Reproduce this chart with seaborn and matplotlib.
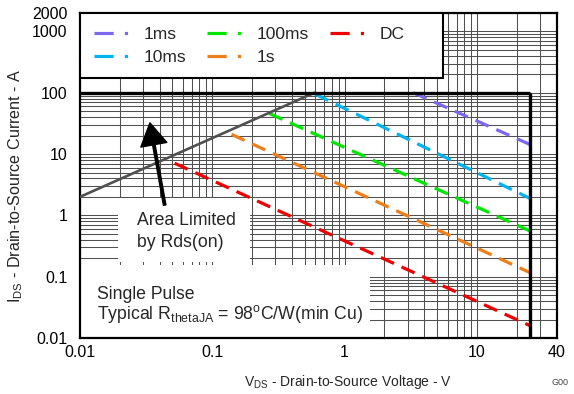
import pandas as pd
import seaborn as sns
import matplotlib.pyplot as plt
from matplotlib.lines import Line2D
from matplotlib.patches import Rectangle
from matplotlib.ticker import LogLocator, NullFormatter

# Safe operating area values
rds_v = [0.01, 0.59]
rds_i = [2.0, 100]

pulse_labels = ['1ms', '10ms', '100ms', '1s', 'DC']
pulse_v_start = [3.3, 0.6, 0.27, 0.14, 0.052]
pulse_i_start = [100, 95, 46, 21, 7.1]
pulse_v_end = [25, 25, 25, 25, 25]
pulse_i_end = [14.4, 1.9, 0.56, 0.117, 0.016]
pulse_colors = ['#7b68ee', '#00b4f0', '#00e600', '#ee7d1a', '#ee0000']

i_limit = 100   # current limit (thick line)
v_limit = 25    # voltage limit (thick line)

x_ticks = [0.01, 0.1, 1, 10, 40]
x_ticklabels = ['0.01', '0.1', '1', '10', '40']
y_ticks = [0.01, 0.1, 1, 10, 100, 1000, 2000]
y_ticklabels = ['0.01', '0.1', '1', '10', '100', '1000', '2000']

rows = []
for lab, vs, is_, ve, ie in zip(pulse_labels, pulse_v_start, pulse_i_start, pulse_v_end, pulse_i_end):
    rows.append({'V': vs, 'I': is_, 'pulse': lab})
    rows.append({'V': ve, 'I': ie, 'pulse': lab})
df = pd.DataFrame(rows)
df_rds = pd.DataFrame({'V': rds_v, 'I': rds_i})

sns.set_style('white')
plt.rcParams['font.family'] = ['Liberation Sans', 'DejaVu Sans']
plt.rcParams['mathtext.fontset'] = 'custom'
plt.rcParams['mathtext.rm'] = 'Liberation Sans'
plt.rcParams['mathtext.it'] = 'Liberation Sans:italic'

fig = plt.figure(figsize=(5.74, 3.94), dpi=100)
ax = fig.add_axes([0.139, 0.142, 0.831, 0.825])
ax.set_xscale('log')
ax.set_yscale('log')

palette = dict(zip(pulse_labels, pulse_colors))
dashes = {lab: (4.5, 2.6) for lab in pulse_labels}
sns.lineplot(data=df, x='V', y='I', hue='pulse', style='pulse', palette=palette,
             dashes=dashes, linewidth=2.3, legend=False, ax=ax, zorder=3)
sns.lineplot(data=df_rds, x='V', y='I', color='#505050', linewidth=1.9, ax=ax, zorder=3)

ax.hlines(i_limit, 0.01, v_limit, color='black', linewidth=2.4, zorder=3)
ax.vlines(v_limit, 0.01, i_limit, color='black', linewidth=2.4, zorder=3)

ax.set_xlim(0.01, 40)
ax.set_ylim(0.01, 2000)
ax.set_xticks(x_ticks)
ax.set_xticklabels(x_ticklabels)
ax.set_yticks(y_ticks)
ax.set_yticklabels(y_ticklabels)
ax.xaxis.set_minor_locator(LogLocator(base=10, subs=range(2, 10), numticks=20))
ax.yaxis.set_minor_locator(LogLocator(base=10, subs=range(2, 10), numticks=20))
ax.xaxis.set_minor_formatter(NullFormatter())
ax.yaxis.set_minor_formatter(NullFormatter())
ax.tick_params(which='both', length=0, labelsize=11.5, colors='black')
ax.tick_params(axis='x', pad=5)
ax.tick_params(axis='y', pad=9)
ax.grid(which='both', color='#505050', linewidth=0.75)
ax.set_axisbelow(True)
for s in ax.spines.values():
    s.set_color('black')
    s.set_linewidth(1.6)

ax.set_xlabel(r'V$_{\mathrm{DS}}$ - Drain-to-Source Voltage - V', fontsize=10)
ax.set_ylabel(r'I$_{\mathrm{DS}}$ - Drain-to-Source Current - A', fontsize=11.6)
ax.xaxis.set_label_coords(0.562, -0.108)
ax.yaxis.set_label_coords(-0.114, 0.467)

# white boxes behind annotations
ax.add_patch(Rectangle((0.08, 0.234), 0.276, 0.197, transform=ax.transAxes,
                       facecolor='white', edgecolor='none', zorder=1))
ax.add_patch(Rectangle((0.0, 0.0), 0.608, 0.225, transform=ax.transAxes,
                       facecolor='white', edgecolor='none', zorder=1))
# legend box
ax.add_patch(Rectangle((0.0, 0.8), 0.761, 0.2, transform=ax.transAxes,
                       facecolor='white', edgecolor='black', linewidth=1.5, zorder=4.5))

ax.text(0.119, 0.327, 'Area Limited\nby Rds(on)', transform=ax.transAxes,
        fontsize=12.7, va='center', ha='left', linespacing=1.4, zorder=4)
ax.annotate('', xy=(0.147, 0.662), xytext=(0.178, 0.409), xycoords='axes fraction',
            arrowprops=dict(facecolor='black', edgecolor='black', width=1.8,
                            headwidth=19, headlength=16, shrink=0), zorder=4)
ax.text(0.036, 0.099, 'Single Pulse\nTypical R$_{\\mathrm{thetaJA}}$ = 98$^{\\mathrm{o}}$C/W(min Cu)',
        transform=ax.transAxes, fontsize=12.7, va='center', ha='left', linespacing=1.0, zorder=4)

handles = [Line2D([0], [0], color=c, linewidth=2.3, linestyle=(0, (6, 3.5, 1, 3.5)))
           for c in pulse_colors]
leg = ax.legend(handles, pulse_labels, ncol=3, loc='upper left',
                bbox_to_anchor=(0, 1), borderaxespad=0, frameon=False,
                fontsize=12.5, handlelength=2.0, handletextpad=0.86,
                labelspacing=0.45, borderpad=0.8, columnspacing=1.2)
leg.set_zorder(5)

fig.text(0.975, 0.03, 'G00', fontsize=6.5, color='#444444', ha='center', va='center')

fig.savefig('out.png', dpi=100)
